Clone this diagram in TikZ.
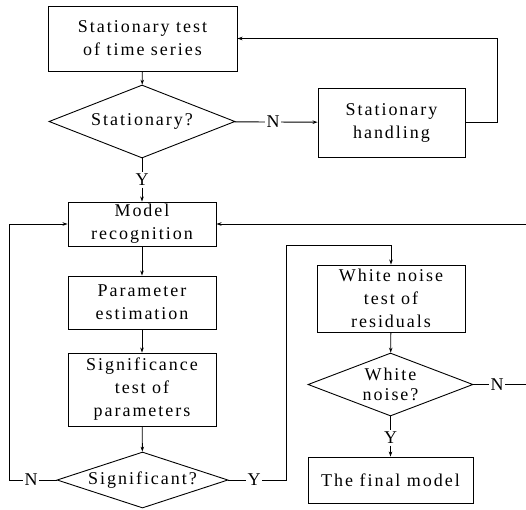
\documentclass[tikz,border=0pt]{standalone}
\usepackage{fontspec}
\setmainfont{Liberation Serif}[LetterSpace=11]
\usetikzlibrary{shapes.geometric,arrows.meta}
\begin{document}
\begin{tikzpicture}[x=1pt,y=-1pt,
  every node/.style={font=\fontsize{18}{23}\selectfont},
  box/.style={draw, rectangle, align=center, inner sep=0pt, line width=0.9pt},
  dia/.style={draw, diamond, align=center, inner sep=-2pt, line width=0.9pt},
  lbl/.style={inner sep=1.5pt},
  line/.style={line width=0.9pt},
  arr/.style={line, -{Stealth[length=5pt,width=3.5pt]}}]
\useasboundingbox (0,0) rectangle (526,509);
% nodes
\node[box, minimum width=189pt, minimum height=65pt] (b1) at (142.5,38.5) {Stationary test\\of time series};
\node[dia, aspect=2.55, minimum width=186pt, minimum height=73pt] (d1) at (142,121.5) {Stationary?};
\node[box, minimum width=147pt, minimum height=69pt] (hand) at (391.5,122.5) {Stationary\\handling};
\node[box, minimum width=148pt, minimum height=44pt] (model) at (142,224) {Model\\recognition};
\node[box, minimum width=148pt, minimum height=53pt] (param) at (142,302.5) {Parameter\\estimation};
\node[box, minimum width=148pt, minimum height=73pt] (sig) at (142,389.5) {Significance\\test of\\parameters};
\node[dia, aspect=3.05, minimum width=171pt, minimum height=56pt] (d2) at (142.5,480) {Significant?};
\node[box, minimum width=148pt, minimum height=67pt] (wn) at (391,298.5) {White noise\\test of\\residuals};
\node[dia, aspect=2.62, inner sep=-4pt, minimum width=165pt, minimum height=63pt] (d3) at (390.5,384.5) {White\\[-3pt]noise?};
\node[box, minimum width=165pt, minimum height=46pt] (final) at (390.5,480) {The final model};
% labels
\node[lbl] (n1) at (273,122) {N};
\node[lbl] (y1) at (142,180) {Y};
\node[lbl] (n2) at (31,480) {N};
\node[lbl] (y2) at (254,480) {Y};
\node[lbl] (n3) at (497,384.5) {N};
\node[lbl] (y3) at (390.5,438) {Y};
\coordinate (c1) at (497,122.5);
\coordinate (c2) at (497,38.5);
\coordinate (c3) at (9,480);
\coordinate (c4) at (9,224);
\coordinate (c5) at (286,480);
\coordinate (c6) at (286,245);
\coordinate (c7) at (391,245);
\coordinate (c8) at (527,384.5);
\coordinate (c9) at (527,224);
% connectors
\draw[arr] (b1) -- (d1);
\draw[line] (d1) -- (n1);
\draw[arr] (n1) -- (hand);
\draw[arr] (hand.east) -- (c1) -- (c2) -- (b1.east);
\draw[line] (d1) -- (y1);
\draw[arr] (y1) -- (model);
\draw[arr] (model) -- (param);
\draw[arr] (param) -- (sig);
\draw[arr] (sig) -- (d2);
\draw[line] (d2) -- (n2);
\draw[arr] (n2) -- (c3) -- (c4) -- (model.west);
\draw[line] (d2) -- (y2);
\draw[arr] (y2) -- (c5) -- (c6) -- (c7) -- (wn.north);
\draw[arr] (wn) -- (d3);
\draw[line] (d3) -- (y3);
\draw[arr] (y3) -- (final);
\draw[line] (d3) -- (n3);
\draw[arr] (n3) -- (c8) -- (c9) -- (model.east);
\end{tikzpicture}
\end{document}
